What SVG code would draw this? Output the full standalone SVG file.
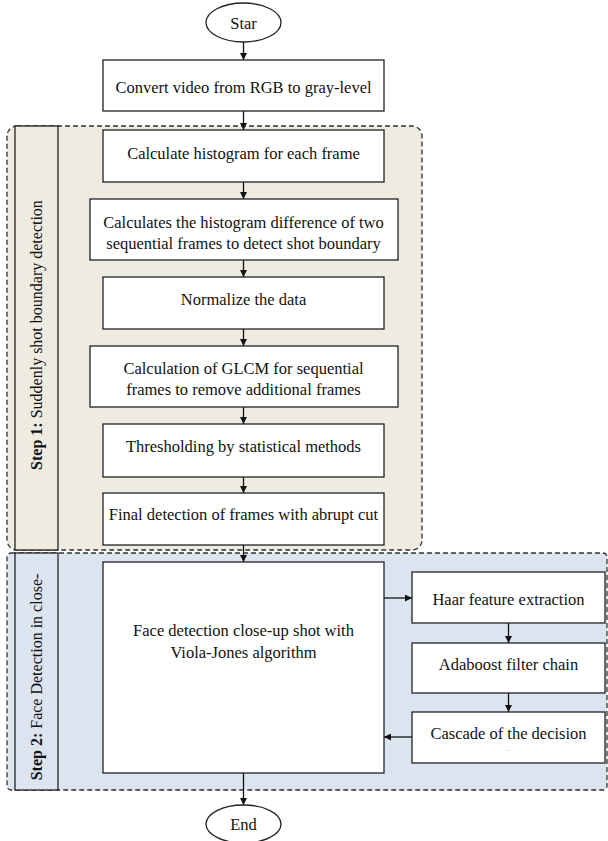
<svg xmlns="http://www.w3.org/2000/svg" width="608" height="841" viewBox="0 0 608 841">
<style>
.box{fill:#fff;stroke:#222;stroke-width:1.3}
.t{font-family:'Liberation Serif','DejaVu Serif',serif;font-size:16.5px;fill:#111;text-anchor:middle;dominant-baseline:central}
.lbl{font-family:'Liberation Serif','DejaVu Serif',serif;font-size:16px;fill:#111;text-anchor:middle}
.b{font-weight:bold}
.ln{stroke:#111;stroke-width:1.3;fill:none}
.reg{stroke:#333;stroke-width:1.3;stroke-dasharray:5,3}
.pan{stroke:#222;stroke-width:1.3}
</style>
<defs>
<marker id="ah" viewBox="0 0 10 10" refX="10" refY="5" markerWidth="7" markerHeight="7" markerUnits="userSpaceOnUse" orient="auto">
<path d="M0,0 L10,5 L0,10 z" fill="#111"/>
</marker>
</defs>
<rect width="608" height="841" fill="#fff"/>
<g id="step1">
<rect class="reg" x="7" y="126" width="415" height="424" rx="10" fill="#EEEBE1"/>
<rect class="pan" x="15" y="126" width="43" height="424" fill="#EEEBE1"/>
<text class="lbl" font-family="Liberation Serif, serif" transform="translate(42,335) rotate(-90)"><tspan class="b">Step 1:</tspan> Suddenly shot boundary detection</text>
</g>
<g id="step2">
<rect class="reg" x="7" y="553" width="600" height="237" rx="4" fill="#DCE4F0"/>
<rect class="pan" x="15" y="553" width="43" height="237" fill="#DCE4F0"/>
<text class="lbl" font-family="Liberation Serif, serif" transform="translate(42,677) rotate(-90)"><tspan class="b">Step 2:</tspan> Face Detection in close-</text>
</g>
<g id="connectors">
<line class="ln" x1="243.5" y1="42" x2="243.5" y2="60" marker-end="url(#ah)"/>
<line class="ln" x1="243.5" y1="111" x2="243.5" y2="130" marker-end="url(#ah)"/>
<line class="ln" x1="243.5" y1="182" x2="243.5" y2="199" marker-end="url(#ah)"/>
<line class="ln" x1="243.5" y1="260" x2="243.5" y2="277" marker-end="url(#ah)"/>
<line class="ln" x1="243.5" y1="329" x2="243.5" y2="346" marker-end="url(#ah)"/>
<line class="ln" x1="243.5" y1="407" x2="243.5" y2="424" marker-end="url(#ah)"/>
<line class="ln" x1="243.5" y1="477" x2="243.5" y2="493" marker-end="url(#ah)"/>
<line class="ln" x1="243.5" y1="545" x2="243.5" y2="562" marker-end="url(#ah)"/>
<line class="ln" x1="384" y1="598" x2="412" y2="598" marker-end="url(#ah)"/>
<line class="ln" x1="508.5" y1="623" x2="508.5" y2="643" marker-end="url(#ah)"/>
<line class="ln" x1="508.5" y1="693" x2="508.5" y2="712" marker-end="url(#ah)"/>
<line class="ln" x1="412" y1="737" x2="384" y2="737" marker-end="url(#ah)"/>
<line class="ln" x1="243.5" y1="773" x2="243.5" y2="805" marker-end="url(#ah)"/>
</g>
<g id="start">
<ellipse class="box" cx="243.5" cy="22.5" rx="37.5" ry="19.5"/>
<text class="t" font-family="Liberation Serif, serif" x="243.5" y="23">Star</text>
</g>
<g id="convert">
<rect class="box" x="103" y="60" width="281" height="51"/>
<text class="t" font-family="Liberation Serif, serif" x="243.5" y="87">Convert video from RGB to gray-level</text>
</g>
<g id="histogram">
<rect class="box" x="103" y="130" width="281" height="52"/>
<text class="t" font-family="Liberation Serif, serif" x="243.5" y="153">Calculate histogram for each frame</text>
</g>
<g id="difference">
<rect class="box" x="90" y="199" width="308" height="61"/>
<text class="t" font-family="Liberation Serif, serif" x="243.5" y="222">Calculates the histogram difference of two</text>
<text class="t" font-family="Liberation Serif, serif" x="243.5" y="243">sequential frames to detect shot boundary</text>
</g>
<g id="normalize">
<rect class="box" x="103" y="277" width="281" height="52"/>
<text class="t" font-family="Liberation Serif, serif" x="243.5" y="299">Normalize the data</text>
</g>
<g id="glcm">
<rect class="box" x="90" y="346" width="308" height="61"/>
<text class="t" font-family="Liberation Serif, serif" x="243.5" y="368">Calculation of GLCM for sequential</text>
<text class="t" font-family="Liberation Serif, serif" x="243.5" y="389">frames to remove additional frames</text>
</g>
<g id="threshold">
<rect class="box" x="103" y="424" width="281" height="53"/>
<text class="t" font-family="Liberation Serif, serif" x="243.5" y="446">Thresholding by statistical methods</text>
</g>
<g id="final">
<rect class="box" x="103" y="493" width="281" height="52"/>
<text class="t" font-family="Liberation Serif, serif" x="243.5" y="514">Final detection of frames with abrupt cut</text>
</g>
<g id="face">
<rect class="box" x="103" y="562" width="281" height="211"/>
<text class="t" font-family="Liberation Serif, serif" x="243.5" y="630">Face detection close-up shot with</text>
<text class="t" font-family="Liberation Serif, serif" x="243.5" y="652">Viola-Jones algorithm</text>
</g>
<g id="haar">
<rect class="box" x="412" y="572" width="193" height="51"/>
<text class="t" font-family="Liberation Serif, serif" x="508.5" y="599">Haar feature extraction</text>
</g>
<g id="adaboost">
<rect class="box" x="412" y="643" width="193" height="50"/>
<text class="t" font-family="Liberation Serif, serif" x="508.5" y="664">Adaboost filter chain</text>
</g>
<g id="cascade">
<rect class="box" x="412" y="712" width="193" height="51"/>
<text class="t" font-family="Liberation Serif, serif" x="508.5" y="733">Cascade of the decision</text>
<text class="t" font-family="Liberation Serif, serif" x="508.5" y="748" style="font-size:9px;fill:#888">.</text>
</g>
<g id="end">
<ellipse class="box" cx="243.5" cy="824" rx="37.5" ry="19"/>
<text class="t" font-family="Liberation Serif, serif" x="243.5" y="824">End</text>
</g>
</svg>
